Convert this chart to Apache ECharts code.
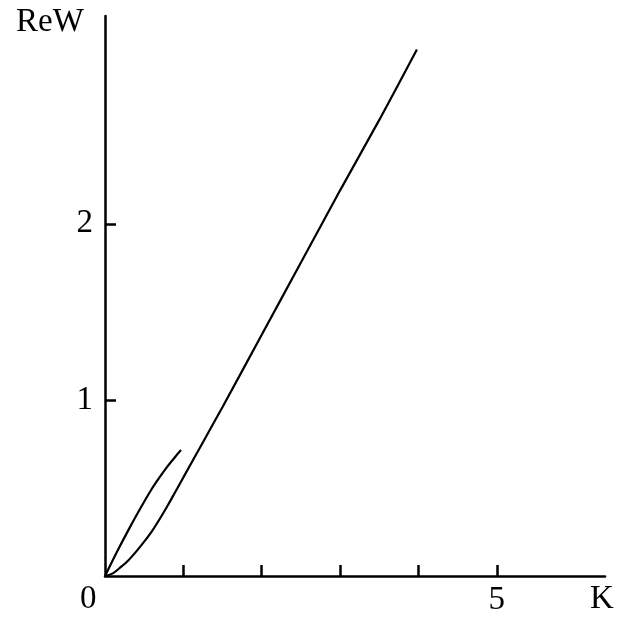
<!DOCTYPE html>
<html>
<head>
<meta charset="utf-8">
<style>
  html, body { margin: 0; padding: 0; background: #fff; }
  #chart { width: 629px; height: 617px; }
</style>
<script src="https://cdn.jsdelivr.net/npm/echarts@6/dist/echarts.min.js"></script>
</head>
<body>
<div id="chart"></div>
<script>
// Lower branch: starts flat, then grows almost linearly
const branchLowK = [0, 0.1, 0.2, 0.3, 0.4, 0.5, 0.6, 0.7, 0.8, 0.9, 1.0, 1.25, 1.5, 2.0, 2.5, 3.0, 3.5, 3.98];
const branchLowW = [0, 0.015, 0.05, 0.09, 0.14, 0.195, 0.255, 0.325, 0.40, 0.48, 0.56, 0.76, 0.96, 1.37, 1.78, 2.19, 2.59, 2.99];

// Upper branch: short concave segment near the origin
const branchHighK = [0, 0.15, 0.3, 0.45, 0.6, 0.7, 0.8, 0.9, 0.97];
const branchHighW = [0, 0.135, 0.262, 0.383, 0.497, 0.563, 0.624, 0.679, 0.715];

const xTicks = [1, 2, 3, 4, 5];
const xLabels = [5];
const yTicks = [1, 2];
const yLabels = [1, 2];

const zip = (a, b) => a.map((v, i) => [v, b[i]]);
const serif = '"Liberation Serif", "Times New Roman", serif';
const fontSize = 33;

const chart = echarts.init(document.getElementById('chart'), null, { renderer: 'canvas' });
chart.setOption({
  animation: false,
  backgroundColor: '#fff',
  grid: { left: 105, right: 24, top: 16, bottom: 41, containLabel: false },
  xAxis: {
    type: 'value', min: 0, max: 6.38,
    axisLine: { show: true, onZero: false, lineStyle: { color: '#000', width: 2.5 } },
    axisTick: { show: true, inside: true, length: 11, customValues: xTicks, lineStyle: { color: '#000', width: 2.5 } },
    axisLabel: { show: true, customValues: xLabels, margin: 8, color: '#000', fontFamily: serif, fontSize: fontSize },
    splitLine: { show: false }
  },
  yAxis: {
    type: 'value', min: 0, max: 3.18,
    axisLine: { show: true, onZero: false, lineStyle: { color: '#000', width: 2.5 } },
    axisTick: { show: true, inside: true, length: 11, customValues: yTicks, lineStyle: { color: '#000', width: 2.5 } },
    axisLabel: { show: true, customValues: yLabels, margin: 12, color: '#000', fontFamily: serif, fontSize: fontSize },
    splitLine: { show: false }
  },
  series: [
    {
      type: 'line', data: zip(branchLowK, branchLowW), smooth: 0.3, symbol: 'none',
      lineStyle: { color: '#000', width: 2.2 }
    },
    {
      type: 'line', data: zip(branchHighK, branchHighW), smooth: 0.3, symbol: 'none',
      lineStyle: { color: '#000', width: 2.2 }
    }
  ],
  graphic: [
    { type: 'text', left: 16, top: 6, style: { text: 'ReW', font: fontSize + 'px ' + serif, fill: '#000' } },
    { type: 'text', left: 80, top: 583, style: { text: '0', font: fontSize + 'px ' + serif, fill: '#000' } },
    { type: 'text', left: 590, top: 583, style: { text: 'K', font: fontSize + 'px ' + serif, fill: '#000' } }
  ]
});
</script>
</body>
</html>
